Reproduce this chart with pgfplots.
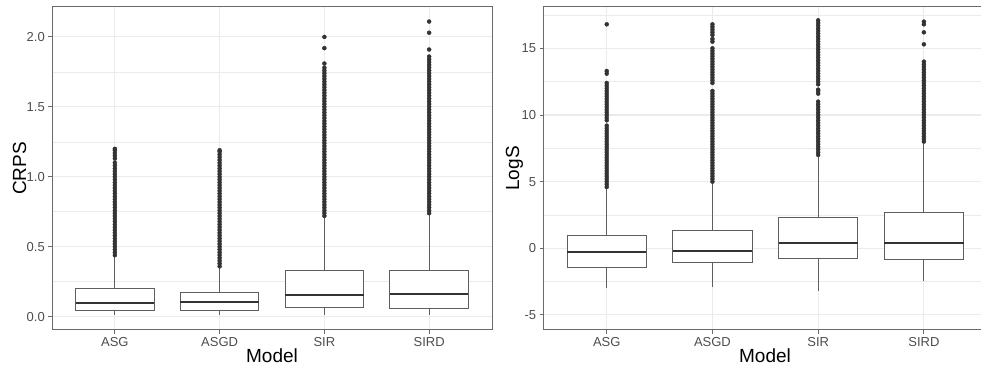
\documentclass[border=0pt]{standalone}
\usepackage{pgfplots}
\pgfplotsset{compat=1.18}
\usepgfplotslibrary{statistics}
\usepackage{fontspec}
\setmainfont{Liberation Sans}
\definecolor{gridc}{HTML}{EBEBEB}
\definecolor{tickc}{HTML}{4D4D4D}
\definecolor{boxc}{HTML}{5E5E5E}
\definecolor{medc}{HTML}{333333}
\definecolor{ptc}{HTML}{333333}
\definecolor{framec}{HTML}{6A6A6A}

\pgfplotsset{
  ggbox/.style={
    scale only axis, height=323pt,
    xmin=0.4, xmax=4.6,
    xtick={1,2,3,4}, xticklabels={ASG,ASGD,SIR,SIRD},
    axis line style={draw=framec, line width=1pt},
    tick pos=left,
    tick align=outside, major tick length=3.7pt, minor tick length=0pt,
    tick style={draw=framec, line width=0.9pt},
    xmajorgrids=true, ymajorgrids=true, yminorgrids=true,
    major grid style={draw=gridc, line width=1.1pt},
    minor grid style={draw=gridc, line width=0.6pt},
    ticklabel style={font=\fontsize{13}{15}\selectfont, text=tickc},
    clip=false,
    boxplot/draw direction=y,
    boxplot/every box/.style={draw=boxc, fill=white, line width=0.95pt},
    boxplot/every whisker/.style={draw=boxc, line width=0.95pt},
    boxplot/every median/.style={draw=medc, line width=1.8pt},
  },
  outl/.style={only marks, mark=*, mark size=2pt, draw=ptc, fill=ptc},
}

\begin{document}
\begin{tikzpicture}
\path[use as bounding box] (0pt,0pt) rectangle (981pt,366pt);

% ---------------- CRPS ----------------
\begin{axis}[ggbox, at={(52pt,36pt)}, anchor=south west, width=440pt,
  ymin=-0.095, ymax=2.214,
  ytick={0,0.5,1,1.5,2}, yticklabels={0.0,0.5,1.0,1.5,2.0},
  minor ytick={0.25,0.75,1.25,1.75}]
\addplot[boxplot prepared={lower whisker=0.015, lower quartile=0.041, median=0.096,
  upper quartile=0.203, upper whisker=0.44, draw position=1, box extend=0.75, whisker extend=0}] coordinates {};
\addplot[boxplot prepared={lower whisker=0.015, lower quartile=0.048, median=0.105,
  upper quartile=0.174, upper whisker=0.355, draw position=2, box extend=0.75, whisker extend=0}] coordinates {};
\addplot[boxplot prepared={lower whisker=0.01, lower quartile=0.067, median=0.153,
  upper quartile=0.329, upper whisker=0.72, draw position=3, box extend=0.75, whisker extend=0}] coordinates {};
\addplot[boxplot prepared={lower whisker=0.01, lower quartile=0.057, median=0.164,
  upper quartile=0.331, upper whisker=0.73, draw position=4, box extend=0.75, whisker extend=0}] coordinates {};
% outliers ASG
\addplot[outl] coordinates {(1,0.44)(1,0.46)(1,0.48)(1,0.50)(1,0.52)(1,0.54)(1,0.56)(1,0.58)(1,0.60)(1,0.62)(1,0.64)(1,0.66)(1,0.68)(1,0.70)(1,0.72)(1,0.74)(1,0.76)(1,0.78)(1,0.80)(1,0.82)(1,0.84)(1,0.86)(1,0.88)(1,0.90)(1,0.92)(1,0.94)(1,0.96)(1,0.98)(1,1.00)(1,1.02)(1,1.04)(1,1.06)(1,1.08)(1,1.10)(1,1.13)(1,1.15)(1,1.17)(1,1.19)(1,1.20)};
% outliers ASGD
\addplot[outl] coordinates {(2,0.36)(2,0.38)(2,0.40)(2,0.42)(2,0.44)(2,0.46)(2,0.48)(2,0.50)(2,0.52)(2,0.54)(2,0.56)(2,0.58)(2,0.60)(2,0.62)(2,0.64)(2,0.66)(2,0.68)(2,0.70)(2,0.72)(2,0.74)(2,0.76)(2,0.78)(2,0.80)(2,0.82)(2,0.84)(2,0.86)(2,0.88)(2,0.90)(2,0.92)(2,0.94)(2,0.96)(2,0.98)(2,1.00)(2,1.02)(2,1.04)(2,1.06)(2,1.08)(2,1.10)(2,1.12)(2,1.14)(2,1.16)(2,1.18)(2,1.19)};
% outliers SIR
\addplot[outl] coordinates {(3,0.72)(3,0.74)(3,0.76)(3,0.78)(3,0.80)(3,0.82)(3,0.84)(3,0.86)(3,0.88)(3,0.90)(3,0.92)(3,0.94)(3,0.96)(3,0.98)(3,1.00)(3,1.02)(3,1.04)(3,1.06)(3,1.08)(3,1.10)(3,1.12)(3,1.14)(3,1.16)(3,1.18)(3,1.20)(3,1.22)(3,1.24)(3,1.26)(3,1.28)(3,1.30)(3,1.32)(3,1.34)(3,1.36)(3,1.38)(3,1.40)(3,1.42)(3,1.44)(3,1.46)(3,1.48)(3,1.50)(3,1.52)(3,1.54)(3,1.56)(3,1.58)(3,1.60)(3,1.62)(3,1.64)(3,1.66)(3,1.68)(3,1.70)(3,1.72)(3,1.74)(3,1.76)(3,1.78)(3,1.81)(3,1.92)(3,2.00)};
% outliers SIRD
\addplot[outl] coordinates {(4,0.74)(4,0.76)(4,0.78)(4,0.80)(4,0.82)(4,0.84)(4,0.86)(4,0.88)(4,0.90)(4,0.92)(4,0.94)(4,0.96)(4,0.98)(4,1.00)(4,1.02)(4,1.04)(4,1.06)(4,1.08)(4,1.10)(4,1.12)(4,1.14)(4,1.16)(4,1.18)(4,1.20)(4,1.22)(4,1.24)(4,1.26)(4,1.28)(4,1.30)(4,1.32)(4,1.34)(4,1.36)(4,1.38)(4,1.40)(4,1.42)(4,1.44)(4,1.46)(4,1.48)(4,1.50)(4,1.52)(4,1.54)(4,1.56)(4,1.58)(4,1.60)(4,1.62)(4,1.64)(4,1.66)(4,1.68)(4,1.70)(4,1.72)(4,1.74)(4,1.76)(4,1.78)(4,1.80)(4,1.82)(4,1.84)(4,1.86)(4,1.91)(4,2.03)(4,2.11)};
\end{axis}

% ---------------- LogS ----------------
\begin{axis}[ggbox, at={(543.3pt,36pt)}, anchor=south west, width=444pt,
  ymin=-6.13, ymax=18.1,
  ytick={-5,0,5,10,15}, yticklabels={-5,0,5,10,15},
  minor ytick={-2.5,2.5,7.5,12.5,17.5}]
\addplot[boxplot prepared={lower whisker=-3.0, lower quartile=-1.43, median=-0.3,
  upper quartile=0.975, upper whisker=4.5, draw position=1, box extend=0.75, whisker extend=0}] coordinates {};
\addplot[boxplot prepared={lower whisker=-2.93, lower quartile=-1.1, median=-0.18,
  upper quartile=1.3, upper whisker=4.9, draw position=2, box extend=0.75, whisker extend=0}] coordinates {};
\addplot[boxplot prepared={lower whisker=-3.18, lower quartile=-0.75, median=0.42,
  upper quartile=2.3, upper whisker=6.85, draw position=3, box extend=0.75, whisker extend=0}] coordinates {};
\addplot[boxplot prepared={lower whisker=-2.43, lower quartile=-0.83, median=0.37,
  upper quartile=2.7, upper whisker=7.85, draw position=4, box extend=0.75, whisker extend=0}] coordinates {};
% outliers ASG
\addplot[outl] coordinates {(1,4.6)(1,4.8)(1,5.0)(1,5.2)(1,5.4)(1,5.6)(1,5.8)(1,6.0)(1,6.2)(1,6.4)(1,6.6)(1,6.8)(1,7.0)(1,7.2)(1,7.4)(1,7.6)(1,7.8)(1,8.0)(1,8.2)(1,8.4)(1,8.6)(1,8.8)(1,9.0)(1,9.2)(1,9.6)(1,9.8)(1,10.0)(1,10.2)(1,10.4)(1,10.6)(1,10.8)(1,11.0)(1,11.2)(1,11.4)(1,11.6)(1,11.8)(1,12.0)(1,12.2)(1,12.4)(1,13.1)(1,13.3)(1,16.8)};
% outliers ASGD
\addplot[outl] coordinates {(2,5.0)(2,5.2)(2,5.4)(2,5.6)(2,5.8)(2,6.0)(2,6.2)(2,6.4)(2,6.6)(2,6.8)(2,7.0)(2,7.2)(2,7.4)(2,7.6)(2,7.8)(2,8.0)(2,8.2)(2,8.4)(2,8.6)(2,8.8)(2,9.0)(2,9.2)(2,9.4)(2,9.6)(2,9.8)(2,10.0)(2,10.2)(2,10.4)(2,10.6)(2,10.8)(2,11.0)(2,11.2)(2,11.4)(2,11.6)(2,11.8)(2,12.4)(2,12.6)(2,12.8)(2,13.0)(2,13.2)(2,13.4)(2,13.6)(2,13.8)(2,14.0)(2,14.2)(2,14.4)(2,14.6)(2,14.8)(2,15.0)(2,15.5)(2,15.7)(2,16.0)(2,16.2)(2,16.4)(2,16.6)(2,16.8)};
% outliers SIR
\addplot[outl] coordinates {(3,7.0)(3,7.2)(3,7.4)(3,7.6)(3,7.8)(3,8.0)(3,8.2)(3,8.4)(3,8.6)(3,8.8)(3,9.0)(3,9.2)(3,9.4)(3,9.6)(3,9.8)(3,10.0)(3,10.2)(3,10.4)(3,10.6)(3,10.8)(3,11.0)(3,11.6)(3,11.8)(3,11.9)(3,12.3)(3,12.5)(3,12.7)(3,12.9)(3,13.1)(3,13.3)(3,13.5)(3,13.7)(3,13.9)(3,14.1)(3,14.3)(3,14.5)(3,14.7)(3,14.9)(3,15.1)(3,15.3)(3,15.5)(3,15.7)(3,15.9)(3,16.1)(3,16.3)(3,16.5)(3,16.7)(3,16.9)(3,17.1)};
% outliers SIRD
\addplot[outl] coordinates {(4,8.0)(4,8.2)(4,8.4)(4,8.6)(4,8.8)(4,9.0)(4,9.2)(4,9.4)(4,9.6)(4,9.8)(4,10.0)(4,10.2)(4,10.4)(4,10.6)(4,10.8)(4,11.0)(4,11.2)(4,11.4)(4,11.6)(4,11.8)(4,12.0)(4,12.2)(4,12.4)(4,12.6)(4,12.8)(4,13.0)(4,13.2)(4,13.4)(4,13.6)(4,13.8)(4,14.0)(4,15.3)(4,16.2)(4,16.8)(4,17.0)};
\end{axis}

% axis titles
\node[rotate=90, inner sep=0pt, font=\fontsize{19}{21}\selectfont] at (19.7pt,197.5pt) {CRPS};
\node[rotate=90, inner sep=0pt, font=\fontsize{19}{21}\selectfont] at (514.5pt,197.5pt) {LogS};
\node[inner sep=0pt, font=\fontsize{19}{21}\selectfont] at (272pt,10.5pt) {Model};
\node[inner sep=0pt, font=\fontsize{19}{21}\selectfont] at (765pt,10.5pt) {Model};
\end{tikzpicture}
\end{document}
